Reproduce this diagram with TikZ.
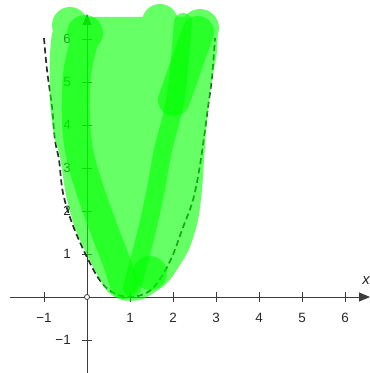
\documentclass[tikz,border=0pt]{standalone}
\usepackage{fontspec}
\setmainfont{Liberation Sans}
\usetikzlibrary{arrows.meta}
\definecolor{axisgray}{RGB}{60,60,60}
\definecolor{curvegray}{RGB}{45,45,45}
\definecolor{brushgreen}{RGB}{0,255,0}
\begin{document}
\begin{tikzpicture}[x=1bp,y=-1bp,
  axisline/.style={draw=axisgray, line width=0.9bp},
  tickmark/.style={draw=axisgray, line width=0.9bp},
  lbl/.style={font=\fontsize{13.5}{15}\selectfont, text={rgb,255:red,40;green,40;blue,40}, inner sep=0pt},
  curveline/.style={draw=curvegray, line width=1.7bp, dash pattern=on 6bp off 3.5bp},
  brushgroup/.style={transparency group, opacity=0.6},
  brushstroke/.style={draw=brushgreen, line cap=round, line join=round}]
\useasboundingbox (0,0) rectangle (370,373);
% axes
\coordinate (xs) at (10,297);
\coordinate (xe) at (370,297);
\coordinate (ys) at (87,373);
\coordinate (ye) at (87,14);
\draw[axisline, -{Triangle[length=11bp,width=9bp]}] (xs) -- (xe);
\draw[axisline, -{Triangle[length=11bp,width=9bp]}] (ys) -- (ye);
\foreach \i/\t in {-1/{−1},1/1,2/2,3/3,4/4,5/5,6/6}{
  \draw[tickmark] ({87+43*\i},292) -- ({87+43*\i},302);
  \node[lbl] (xl\i) at ({87+43*\i},318) {\t};
}
\foreach \j/\t in {-1/{−1},1/1,2/2,3/3,4/4,5/5,6/6}{
  \draw[tickmark] (82,{297-43*\j}) -- (92,{297-43*\j});
  \node[lbl, anchor=east] (yl\j) at (71,{297-43*\j}) {\t};
}
\node[lbl, font=\fontsize{15}{17}\selectfont\itshape] (xlab) at (366,281) {x};
\node[draw=axisgray, fill=white, circle, minimum size=5bp, inner sep=0pt, line width=0.8bp] (origin) at (87,297) {};
% dashed curve
\draw[curveline] plot[smooth, tension=0.6] coordinates {(44,38) (47,70) (52,107) (55,140) (59,160) (63,193) (72,223) (85,253) (99,279) (112,292) (130,297) (148,292) (160,279) (172,257) (182,230) (193,200) (200,165) (205,130) (208,107) (212,77) (215,38)};
% green brush strokes
\begin{scope}[brushgroup]
  \fill[brushgreen] (70,25) circle (18);
  \fill[brushgreen] (160,22) circle (18);
  \fill[brushgreen] (200,28) circle (19);
  \fill[brushgreen] plot[smooth cycle, tension=0.5] coordinates {(54,28) (50,55) (50,100) (54,135) (60,157) (66,195) (75,228) (87,255) (98,276) (108,292) (122,300) (140,300) (155,292) (168,282) (180,265) (190,247) (198,220) (202,190) (204,160) (207,120) (212,80) (217,50) (215,22) (190,17) (150,17) (95,17) (70,18)};
\end{scope}
\begin{scope}[brushgroup]
  \fill[brushgreen] (85,33) circle (18);
  \draw[brushstroke, line width=28bp] plot[smooth, tension=0.6] coordinates {(84,42) (77,75) (76,120) (80,155) (90,190) (105,232) (117,263) (124,285)};
\end{scope}
\begin{scope}[brushgroup]
  \draw[brushstroke, line width=32bp] (198,32) -- (174,100);
\end{scope}
\begin{scope}[brushgroup]
  \draw[brushstroke, line width=18bp] plot[smooth, tension=0.6] coordinates {(183,22) (178,80) (172,115) (163,150) (157,183) (150,217) (142,250) (136,272) (132,288)};
\end{scope}
\begin{scope}[brushgroup]
  \fill[brushgreen] (150,273) circle (17);
\end{scope}
\end{tikzpicture}
\end{document}
